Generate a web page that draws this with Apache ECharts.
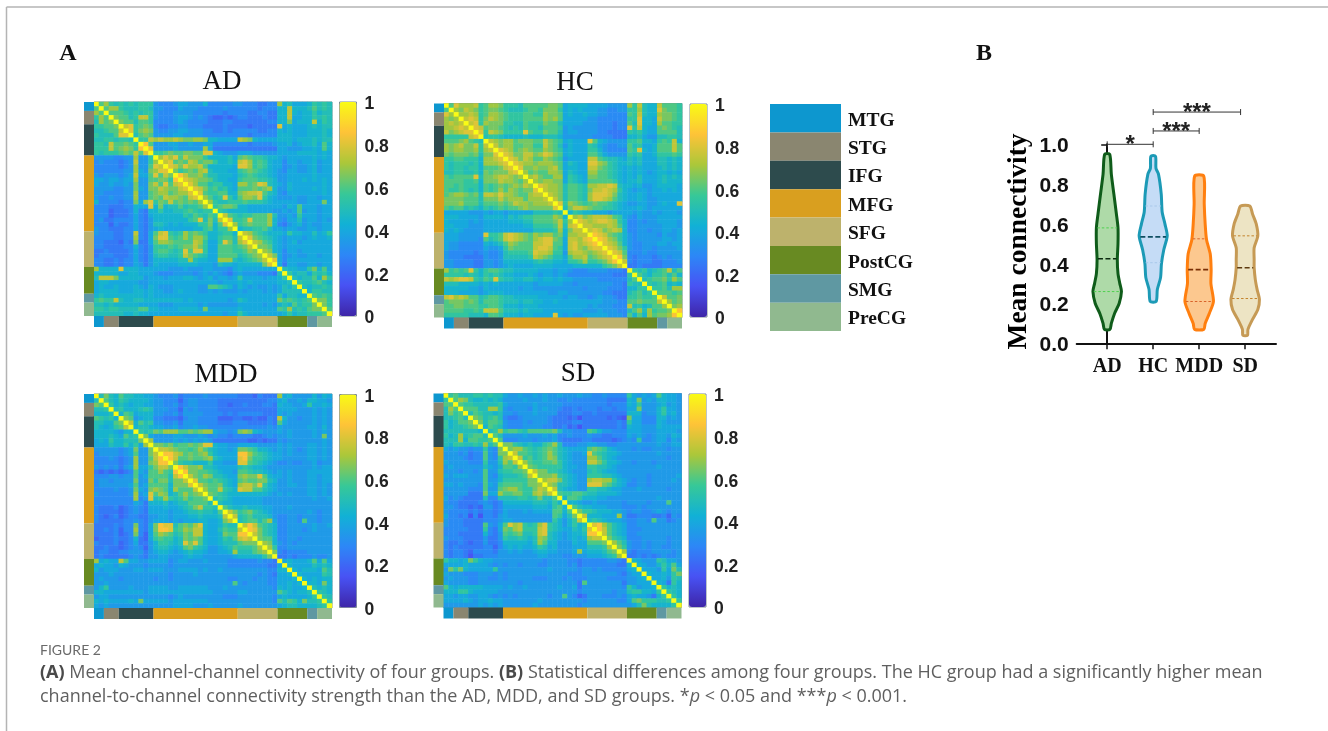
<!DOCTYPE html>
<html>
<head>
<meta charset="utf-8">
<style>html,body{margin:0;padding:0;background:#fff}#c{width:1328px;height:731px}</style>
<script src="https://cdn.jsdelivr.net/npm/echarts@6/dist/echarts.min.js"></script>
</head>
<body>
<div id="c"></div>
<script>
// ---- data ----
const regions = ['MTG','STG','IFG','MFG','SFG','PostCG','SMG','PreCG'];
const regionSizes = [2,3,7,17,8,6,2,3];
const regionColors = ['#0d97cf','#8a8670','#2d4b4d','#d99f1f','#bdb26c','#688a22','#5f98a2','#90b98f'];
// Upper triangle of each matrix, one string per row, starting at the diagonal.
// Letter code: a=.10 b=.15 c=.20 ... each letter +.05 ... s=1.00
const adRows = [
"sk mji jijijjj feeefggfffheeeeef feeeddee mhiggg hj iji",
"s kmm jiiijji ffeeegfffeeeeefee eeeedeee hhnhhh ik iji",
"skk kjijijj feeeffffeeeeeedee eeddeedd hhnhgh hj hii",
"sl kkijnnj feeefggfefedccdcd eedddedd hhnggh hj iji",
"s lkkikkj eeeefgfeeeedddeed ddddddee hhlghh hn hji",
"snojklk eddeeffeeeddddedd ddcddddd oghggg hi hii",
"sojlml feeffggfffeeddede eeeeddee hghggg hh hih",
"siklk ffffggffffeeeeeee eedeeeee hhhggg hh hih",
"sjjn mnmmnmllmmlhhgggg nmlhgggg hhhghh hi hii",
"spk fffggffgffggeeeee eedeeeef gghfgh hi gkh",
"so ffffgfffffmgddddd dddddddd ggfffg gh gkh",
"s jjklkkllkkoohgfff gggfffff gggghh hh ghg",
"s momoknllljhhhhig klkjjihh gfgggg gh ghg",
"s noklknmklljhhih nomjkjhg geggfg gh fgg",
"s onlommnkhhhhhg oomjkjhg gefgff gh fgg",
"s ljklkmnihhhgg jklkjihg feggff gh fgg",
"s pnllmkiihhhg ijkjiihg ffgggg gh ggg",
"s onmllkihhgg jkkkjjih ffgggh gh ghg",
"s omkkijjhhg mmklonih gfhggg gg ghg",
"s onljkijhg kkklklmh ffhggg gh ghg",
"s okjjkkhh lmnnokih fegggg gg ghg",
"s mkijojh kmmlojhg fffgff gg fgg",
"s mjiijj jkjjjihg ggggff gg glg",
"s jkllk hhgggggg gfhgkg gg fgg",
"s jihh hhgggggf fgfgkf gg fgg",
"s nkj ijjkkkmi ffgfjg gg fgg",
"s oj jkokkkmh feggif gg fgf",
"s m jklkkkmh edfghf gf fgg",
"s hiijjkig gfggff gg fgg",
"snmkjihh hgjhhg gi ghj",
"solkjih gfgggf gh ggh",
"snmkjh gfghfg gg ggg",
"sllkh gfgggg gg ggg",
"smlh geggfg gg ggg",
"snl gefgff gg fgg",
"so gegggg gg ggg",
"s gdggff gg fgg",
"sihhgg jl hkg",
"sjhii gj ijh",
"sihi ik hmj",
"sji ij kih",
"si hi iji",
"s hj jii",
"sk jkj",
"s llj",
"slj",
"sk",
"s"];
const hcRows = [
"sk omm mnjkmml jjjikkkkkllkghhhh ggggffff mjnihh nk kkj",
"s mln mljkllk jiiijkkjllljghghg ggffeeff jjmihh ol kkj",
"smm nmjkmml kjjjkkjjmllkghggh ggffeeee kjnihh ml lkj",
"sn onjlnml kjjjkkkkmlmkggggg ffeeeeee jjohhg nl lkj",
"s nojmlll jjiikjjjlkkiggggf ffeeedee kiohhg mk kjj",
"sonkllk jijikjjikkkjfgfff ffeeedee ojnhgg kl kji",
"sojnml jjjjokjjlkkifggff ffeedddd jijhgg kk kki",
"sijji hhhhihhhiiihfffff feeeeddd hhigff ii jji",
"snml mmklllkknlkjghggg okhgffff jjkhhg jk jnh",
"snl mmkklljjnlkifhggg jigfeeff kijggh kk knk",
"so nmklmlkkmlkjghggg jjhfeeee kjohgh kk knk",
"s onllnnlmonlkghggg kkigffff jijggh jj jkj",
"s onlnmkkmlkjfgggg nnkjiihg ihiggg ii hih",
"s onmmlmmmlkgihgg oomljihh ihiggg ii hih",
"s ollmllmnkghhgg nnlkjihg hghggg hi hih",
"s mklkkmmlgihgg mmkkjihg hghgfg hh ghg",
"s mnlkkmmgjihg llkkjihg hgiggg hi hih",
"s mlmmllgjihg kkkkkjhg hhiggg hi hhh",
"s onmmlikkji mmnnonih hghffg hh hhg",
"s nmmlikkji lnnonmjh gfggfg gh ghg",
"s nmlikkji mooonlih gghgfg gg ggg",
"s nlikkji moonmkih gghgff gg ggg",
"s ojmlkj klkkjihg ffggff gh ggo",
"s ilnnm lkkjjihg gghgfg gg ggg",
"s hjih hgggfggg gfgffg fg ggf",
"s mnl mnnnmkjg fegfff gg ggg",
"s on mnoonmjh eefeff gg ggf",
"s n nmmmnmkh eeffff fg ggf",
"s nonlmnmh eeffef fg gfg",
"sponlkjh feffff eg ffg",
"spomljh feffff fg gfg",
"sonmkh feefff gg fgg",
"sonlj feeffe ff ffg",
"sonk eeefee ff fff",
"spl edeeed ef eff",
"sn edeeed de eef",
"s ddeddd de eee",
"sjijhi jk nik",
"skihj jk ikh",
"sijk kl jmk",
"sji jk hih",
"sj jk imm",
"s kk kjk",
"sn kkl",
"s mkl",
"slm",
"sp",
"s"];
const mddRows = [
"si lih kiihhgg feeefdeeeefeeeeee dddceddd mghfff fh fhg",
"s kih jihhhhg ffeeeceffeeeedddd ddddddee ghffgf hh ggf",
"sjh ihghhgg ffeefdeffeeeeddcd dedddeed hggffg jg ghg",
"si jhhhiji fffeecfefeeeedddd dddddddd ggggff fg fgf",
"s hkjghhh ffeefdffffeeeeded eeeeeddd gfgfff fg fgf",
"slkfghh eedddceffeeeecccd dccdcced nhffef fg fgf",
"snhkij ffeefdfffeeeeddde eedddded kgffff fg fgf",
"shiih ggffgeffgffeeeeee eeeeeefe gfffff gg fhf",
"sjij lkmmmkklklmmgffef lmlhgfff gfgfff fg fgf",
"slg ffffggfffgfefeede eeeddefe ffgfff fg flf",
"sm ffffgfgfgfgfddddd ddccdcdd feffff ff fgf",
"s llkljkklkloohggff ggggffff gfgfff gg fgf",
"s nnmlkkjkmkihggfg llkjhhgf gfgfef gg fgf",
"s ppnmklklmjhgggg ppmkjihg gfgfff gg fgf",
"s pnkklkklmihggg opljjihg gfffff gg fgf",
"s ljiihhhjggfff ookjihgf eefeef fg eff",
"s pnllmiihgggg ijihhgff ffffff fg fgg",
"s pllkkjihggf kkjiihgf gfgfff gg ggg",
"s nlkmliihgg lmllokhg gfgfff gg fgg",
"s okkjkjihg klkkllih ffgfff gg fgg",
"s nlkklihg mnnlojhg ffggff gg fgf",
"s mkknjih onnkkihg ffffff gg fgf",
"s lkjihh hhhhhhgf gfgfff gg fgf",
"s ijihg gggggfff ffffff fg ffg",
"s ihhg gggggfff ffffff ff fff",
"s kih hihhhggf ffgfff ff fff",
"s nl jkljihgf ffffff gf eff",
"s n ijkiiihf eeffef ff eff",
"s ijkkikmg eeffek ff eff",
"snpnkjih eeffff fg ffg",
"spoljih eefffe fg fff",
"snljih eeffff ff fff",
"slkkh eeffef ff fff",
"smlh fefeff ff fff",
"smj eeffff ff fff",
"sl edeeee ff fff",
"s ddedee ef eef",
"sghggg hk gkg",
"shggg gi hih",
"shgh hh gki",
"shg gg gji",
"sh gh ghh",
"s hh glh",
"si hih",
"s jih",
"sji",
"sj",
"s"];
const sdRows = [
"sj kii ijjijii gffgffgfgffgfffgf feefeeee jgfgfg kh ggf",
"s kml ihhihih ffffgfffgffeefeee eeeedddd hglfgf hh ggf",
"skj jiiiiij gfffffgfffffeeeee eeeedeee hgjfff gh fgf",
"sk kkiimmj fefffegfgffeddede eedeedee gglfff hj ggf",
"s ikjiihi ffefffgffffdddeed dedddddd hhheff hj ghf",
"slkijki eddefffffedddcdbd ddddcdcb lggeee hh fgf",
"slikkj feeefefffeddddeed dddddded jggeee hg fff",
"shkji feeeffffeeddecdbd dddddded hggfff hg ggg",
"sijm jkkjikkkkkliffeee kjhffeee gggfff gg ggf",
"ski ffffgfffgfgeefeee feeddeee gfgfef gg fhg",
"sk eeefffefffgedddde eddddcde fejeef gg egf",
"s lljihihhjkmieeeff ggffeeff ffffff gf fgg",
"s lmmkjijklkihgggg klkjhgff fefeef ff eff",
"s nkkjijkmkihgffg okjihhgf ffffff gf fff",
"s njkijkmlihgfff mmkihgff ffffff ff eff",
"s mkjjkkljhgfff nnljhhgf fefffe ff fff",
"s lkjjjjjhggff jjiihgff ffffff gf fff",
"s nlljjihgfff ijihggff ffffff ff fff",
"s lllmjihgff jjjiihgf ffffef ff ffg",
"s mnnlihgff mnnmmjhg feffef ff fgf",
"s mliihgff ooolkihg eeffef ff fff",
"s nihggff jjiihggf ffgfff ff eff",
"s kjjkkj iihhhhgf ffffff ff fff",
"s hkkjh hhggffff ffffff gf fff",
"s hhgf fgfffffe ffffef ff kff",
"s kih hgggfffe eefeff ff fff",
"s lj jihhhggf effeef gf eff",
"s n hhhgggmf ddeeed de cfe",
"s ijihgggf eeffek ff def",
"sopmkihg eeffff ff fff",
"spnkihg eeefff ff fff",
"snkihg eeffff ff fff",
"sljih eeefff ff eff",
"smki feefef ff eff",
"slj feefef fe eff",
"sm edeeef ff fef",
"s ddeded ef eef",
"shgfff ji ggf",
"shgff hj hkg",
"sggg fj gli",
"shg gh gjl",
"sg gh fji",
"s hg djh",
"sj hih",
"s jih",
"sjh",
"sj",
"s"];
const parula = ['#3e26a8','#4852f4','#2d87f7','#11b1d6','#37c897','#abc739','#fec338','#f9fb15'];

const groups = ['AD','HC','MDD','SD'];
// violin outlines: connectivity level and half width of the density
const adLevel = [.95,.85,.75,.65,.58,.5,.42,.35,.3,.26,.2,.15,.1,.07];
const adHalf  = [.055,.09,.145,.2,.235,.235,.22,.235,.275,.31,.26,.16,.09,.06];
const hcLevel = [.94,.88,.85,.75,.66,.6,.54,.47,.4,.33,.27,.21];
const hcHalf  = [.05,.06,.115,.175,.195,.255,.305,.23,.18,.16,.09,.065];
const mddLevel = [.84,.7,.6,.52,.45,.37,.3,.21,.15,.1,.07];
const mddHalf  = [.1,.11,.13,.16,.24,.26,.255,.31,.22,.13,.1];
const sdLevel = [.69,.65,.6,.54,.48,.42,.38,.32,.27,.22,.17,.12,.07,.04];
const sdHalf  = [.1,.16,.24,.275,.195,.195,.195,.22,.26,.31,.275,.16,.06,.05];
const adQuart = [.58,.425,.26];
const hcQuart = [.69,.535,.405];
const mddQuart = [.525,.37,.21];
const sdQuart = [.54,.38,.225];
const violinStroke = ['#0f5c1a','#1c9ab6','#ff7f0f','#c69a55'];
const violinFill = ['#aedaa8','#c5dcf6','#fcc88f','#ede4c4'];
const quartColor = ['#4fd04f','#a9c8ea','#d9632a','#c4832c'];
const medianColor = ['#0b2a10','#0f4f63','#7a2f05','#5e3a10'];
// significance brackets: from group, to group, level, stars
const brackets = [[0,1,1.0,'*'],[1,2,1.067,'***'],[1,2.9,1.162,'***']];

// ---- decode ----
function decode(rows){
  const out = [];
  rows.forEach((str,i)=>{
    const s = str.replace(/ /g,'');
    if (s.length !== 48-i) throw new Error('bad row '+i+' len '+s.length+' in '+str);
    for (let k=0;k<s.length;k++){
      const v = Math.round(((s.charCodeAt(k)-97)*0.05+0.1)*100)/100;
      const j = i+k;
      out.push([j,i,v]);
      if (j!==i) out.push([i,j,v]);
    }
  });
  return out;
}
const ids = Array.from({length:48},(_,i)=>i);
const regionSpans = [];
regionSizes.reduce((a,n,i)=>{regionSpans.push([a,a+n,i]);return a+n;},0);

const panels = [
 {name:'AD',rows:adRows,x:94,y:102,w:238,h:214,cx:339.5,cy:102,cw:17,ch:214,lx:84,bh:11,tx:222,ty:82},
 {name:'HC',rows:hcRows,x:444,y:103.5,w:238,h:214,cx:690,cy:104,cw:17,ch:213,lx:434,bh:11,tx:575,ty:83},
 {name:'MDD',rows:mddRows,x:94,y:394,w:238,h:214,cx:339.5,cy:394.5,cw:17,ch:213,lx:84,bh:11,tx:226,ty:375},
 {name:'SD',rows:sdRows,x:443.5,y:393.5,w:238,h:214,cx:689,cy:394,cw:17,ch:213,lx:433.5,bh:11,tx:578,ty:374}
];
const grid=[],xAxis=[],yAxis=[],series=[],visualMap=[],graphic=[];
function addGrid(l,t,w,h,xa,ya,extra){
  grid.push(Object.assign({left:l,top:t,width:w,height:h,containLabel:false},extra||{}));
  const g = grid.length-1;
  xAxis.push(Object.assign({gridIndex:g},xa));
  yAxis.push(Object.assign({gridIndex:g},ya));
  return g;
}
const hidden48 = {type:'value',min:0,max:48,show:false};
const hidden01 = {type:'value',min:0,max:1,show:false};
function stripSeries(g,vertical){
  series.push({type:'custom',xAxisIndex:g,yAxisIndex:g,silent:true,coordinateSystem:'cartesian2d',
    data:regionSpans,
    renderItem:(p,api)=>{
      const a=api.value(0),b=api.value(1),i=api.value(2);
      const s=p.coordSys;
      if(vertical){
        const t=api.coord([0,a])[1],e=api.coord([0,b])[1];
        return {type:'rect',shape:{x:s.x,y:t,width:s.width,height:e-t},style:{fill:regionColors[i]}};
      }
      const t=api.coord([a,0])[0],e=api.coord([b,0])[0];
      return {type:'rect',shape:{x:t,y:s.y,width:e-t,height:s.height},style:{fill:regionColors[i]}};
    }});
}
const frame = {show:true,borderColor:'#7d8c93',borderWidth:1};
panels.forEach(p=>{
  const g = addGrid(p.x,p.y,p.w,p.h,
    {type:'category',data:ids,show:false},
    {type:'category',data:ids,inverse:true,show:false},frame);
  series.push({type:'heatmap',name:p.name,xAxisIndex:g,yAxisIndex:g,data:decode(p.rows),silent:true,progressive:0,
    itemStyle:{borderWidth:0},emphasis:{disabled:true}});
  visualMap.push({type:'continuous',seriesIndex:series.length-1,min:0,max:1,show:true,calculable:false,hoverLink:false,
    left:p.cx,top:p.cy,itemWidth:p.cw,itemHeight:p.ch,padding:0,text:null,showLabel:false,inRange:{color:parula}});
  // colour bar outline and scale
  addGrid(p.cx,p.cy,p.cw,p.ch,hidden01,hidden01,frame);
  addGrid(p.cx,p.cy+2.5,p.cw,p.ch,hidden01,
    {type:'value',min:0,max:1,interval:0.2,position:'right',splitLine:{show:false},
     axisLine:{show:false},axisTick:{show:false},
     axisLabel:{margin:8,fontFamily:'"Liberation Sans"',fontWeight:'bold',fontSize:17.5,color:'#222',
       formatter:v=>String(Math.round(v*10)/10)}});
  // region strips
  const gl=addGrid(p.lx,p.y,10,p.h,hidden01,Object.assign({inverse:true},hidden48));
  stripSeries(gl,true);
  const gb=addGrid(p.x,p.y+p.h,p.w,p.bh,Object.assign({},hidden48),hidden01);
  stripSeries(gb,false);
  graphic.push({type:'text',style:{text:p.name,x:p.tx,y:p.ty,align:'center',verticalAlign:'middle',fill:'#111',font:'27px "Liberation Serif"'}});
});

// region key: swatches and their labels
const gk = addGrid(770,104,71,227,hidden01,
  {type:'category',data:regions,inverse:true,show:false});
series.push({type:'bar',xAxisIndex:gk,yAxisIndex:gk,barWidth:'100%',silent:true,
  data:regions.map((r,i)=>({value:1,itemStyle:{color:regionColors[i]}}))});
addGrid(770,106.5,71,227,hidden01,
  {type:'category',data:regions,inverse:true,position:'right',axisLine:{show:false},axisTick:{show:false},
   axisLabel:{margin:7,fontFamily:'"Liberation Serif"',fontWeight:'bold',fontSize:19.5,color:'#111'}});

// panel B
const xSpan=[-0.663,3.67];
const gv = addGrid(1076.7,144.3,199.3,199,
  {type:'value',min:xSpan[0],max:xSpan[1],splitLine:{show:false},
   axisLine:{onZero:false,lineStyle:{color:'#111',width:2}},
   axisTick:{customValues:[0,1,2,3],length:6,lineStyle:{color:'#111',width:1.5}},
   axisLabel:{customValues:[0,1,2,3],margin:14,fontFamily:'"Liberation Serif"',fontWeight:'bold',fontSize:20,color:'#111',formatter:v=>groups[Math.round(v)]}},
  {type:'value',min:0,max:1,interval:0.2,splitLine:{show:false},
   axisLine:{lineStyle:{color:'#111',width:2}},axisTick:{length:6,lineStyle:{color:'#111',width:1.5}},axisLabel:{show:false}});
addGrid(1076.7,146.5,199.3,199,hidden01,
  {type:'value',min:0,max:1,interval:0.2,splitLine:{show:false},axisLine:{show:false},axisTick:{show:false},
   axisLabel:{margin:8,fontFamily:'"Liberation Sans"',fontWeight:'bold',fontSize:21,color:'#111',formatter:v=>v.toFixed(1)}});
addGrid(1076.7,142,199.3,199,hidden01,
  {type:'value',min:0,max:1,splitLine:{show:false},axisLine:{show:false},axisTick:{show:false},axisLabel:{show:false},
   name:'Mean connectivity',nameLocation:'middle',nameGap:44,
   nameTextStyle:{fontFamily:'"Liberation Serif"',fontWeight:'bold',fontSize:27.5,color:'#000'}});
function halfAt(L,H,y){
  for(let i=0;i<L.length-1;i++){ if(y<=L[i]&&y>=L[i+1]){const t=(L[i]-y)/(L[i]-L[i+1]);return H[i]+t*(H[i+1]-H[i]);} }
  return 0;
}
[[adLevel,adHalf,adQuart],[hcLevel,hcHalf,hcQuart],[mddLevel,mddHalf,mddQuart],[sdLevel,sdHalf,sdQuart]].forEach((v,gi)=>{
  const [L,H,Q]=v;
  series.push({type:'custom',name:groups[gi],xAxisIndex:gv,yAxisIndex:gv,silent:true,clip:false,data:[[gi,L[0]]],
    renderItem:(p,api)=>{
      const pts=[];
      L.forEach((y,i)=>pts.push(api.coord([gi+H[i],y])));
      for(let i=L.length-1;i>=0;i--)pts.push(api.coord([gi-H[i],L[i]]));
      const children=[{type:'polygon',shape:{points:pts,smooth:0.25},style:{fill:violinFill[gi],stroke:violinStroke[gi],lineWidth:3,lineJoin:'round'}}];
      Q.forEach((y,qi)=>{
        const h=halfAt(L,H,y)-0.02;
        const a=api.coord([gi-h,y]),b=api.coord([gi+h,y]);
        const med=qi===1;
        children.push({type:'line',shape:{x1:a[0],y1:a[1],x2:b[0],y2:b[1]},
          style:{stroke:med?medianColor[gi]:quartColor[gi],lineWidth:med?1.6:1,lineDash:med?[5,2.5]:[2.5,2]}});
      });
      return {type:'group',children};
    }});
});
series.push({type:'custom',name:'significance',xAxisIndex:gv,yAxisIndex:gv,silent:true,clip:false,data:brackets,
  renderItem:(p,api)=>{
    const a=api.coord([api.value(0),api.value(2)]),b=api.coord([api.value(1),api.value(2)]);
    const txt=brackets[p.dataIndex][3];
    const c='#333';
    return {type:'group',children:[
      {type:'line',shape:{x1:a[0],y1:a[1],x2:b[0],y2:b[1]},style:{stroke:c,lineWidth:1}},
      {type:'line',shape:{x1:a[0],y1:a[1]-3,x2:a[0],y2:a[1]+3},style:{stroke:c,lineWidth:1}},
      {type:'line',shape:{x1:b[0],y1:b[1]-3,x2:b[0],y2:b[1]+3},style:{stroke:c,lineWidth:1}},
      {type:'text',style:{text:txt,x:(a[0]+b[0])/2,y:a[1]+1,align:'center',verticalAlign:'middle',fill:'#222',font:'bold 24px "Liberation Sans"'}}
    ]};
  }});

// page frame, panel letters and caption
graphic.push(
 {type:'line',shape:{x1:6.5,y1:7,x2:1328,y2:7},style:{stroke:'#b4b4b4',lineWidth:1.5}},
 {type:'line',shape:{x1:6.5,y1:7,x2:6.5,y2:731},style:{stroke:'#b4b4b4',lineWidth:1.5}},
 {type:'text',style:{text:'A',x:68,y:54,align:'center',verticalAlign:'middle',fill:'#111',font:'bold 24px "Liberation Serif"'}},
 {type:'text',style:{text:'B',x:984,y:54,align:'center',verticalAlign:'middle',fill:'#111',font:'bold 24px "Liberation Serif"'}},
 {type:'text',style:{text:'FIGURE 2',x:40,y:650,verticalAlign:'middle',fill:'#6a6a6a',font:'14px "Lato"'}},
 {type:'text',style:{x:40,y:673,verticalAlign:'middle',fill:'#5f5f5f',font:'18px "Open Sans"',
   text:'{b|(A)} Mean channel-channel connectivity of four groups. {b|(B)} Statistical differences among four groups. The HC group had a significantly higher mean',
   rich:{b:{font:'bold 18px "Open Sans"',fill:'#4a4a4a'}}}},
 {type:'text',style:{x:40,y:697,verticalAlign:'middle',fill:'#5f5f5f',font:'18px "Open Sans"',
   text:'channel-to-channel connectivity strength than the AD, MDD, and SD groups. *{i|p} < 0.05 and ***{i|p} < 0.001.',
   rich:{i:{font:'italic 18px "Open Sans"',fill:'#5f5f5f'}}}}
);

const chart = echarts.init(document.getElementById('c'),null,{renderer:'canvas'});
chart.setOption({animation:false,backgroundColor:'#fff',grid,xAxis,yAxis,series,visualMap,graphic:{elements:graphic}});
</script>
</body>
</html>
